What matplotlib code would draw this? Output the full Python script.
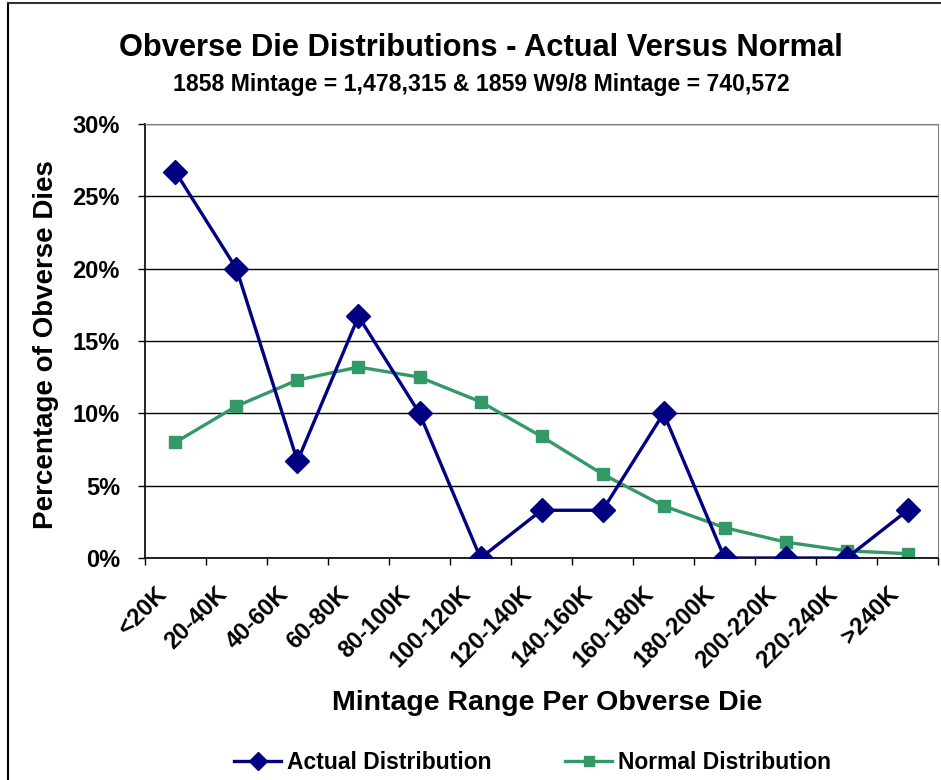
import matplotlib.pyplot as plt
from matplotlib.transforms import ScaledTranslation
import numpy as np

plt.rcParams['font.family'] = ['Liberation Sans', 'DejaVu Sans']
plt.rcParams['font.weight'] = 'bold'
plt.rcParams['axes.labelweight'] = 'bold'

categories = ['<20K', '20-40K', '40-60K', '60-80K', '80-100K', '100-120K', '120-140K',
              '140-160K', '160-180K', '180-200K', '200-220K', '220-240K', '>240K']
actual = [26.7, 20.0, 6.7, 16.7, 10.0, 0.0, 3.3, 3.3, 10.0, 0.0, 0.0, 0.0, 3.3]
normal = [8.0, 10.5, 12.3, 13.2, 12.5, 10.8, 8.4, 5.8, 3.6, 2.1, 1.1, 0.5, 0.3]

fig = plt.figure(figsize=(9.41, 7.8), dpi=100)
ax = fig.add_axes([0.154, 0.2846, 0.843, 0.5564])

x = np.arange(len(categories))
ax.plot(x, actual, color='#000080', lw=2.4, marker='D', ms=12, label='Actual Distribution',
        zorder=3)
ax.plot(x, normal, color='#339966', lw=2.4, marker='s', ms=9, label='Normal Distribution',
        zorder=2)

ax.set_xlim(-0.5, len(categories) - 0.5)
ax.set_ylim(0, 30)
ax.set_yticks(np.arange(0, 31, 5))
ax.set_yticklabels([f'{v}%' for v in range(0, 31, 5)], fontsize=17)
ax.yaxis.grid(True, color='black', lw=1)
ax.set_axisbelow(True)

ax.set_xticks(x)
ax.set_xticklabels(categories, rotation=45, ha='right', va='top', rotation_mode='anchor',
                   fontsize=17)
ax.tick_params(axis='x', length=0, pad=17.5)
shift = ScaledTranslation(-21 / 100, 0, fig.dpi_scale_trans)
for lbl in ax.get_xticklabels():
    lbl.set_transform(lbl.get_transform() + shift)
ax.set_xticks(np.arange(-0.5, len(categories), 1), minor=True)
ax.tick_params(axis='x', which='minor', length=5, width=1, direction='out')
ax.tick_params(axis='y', length=5, width=1, direction='out', pad=13)

for s in ['top', 'right']:
    ax.spines[s].set_color('#808080')
for s in ['left', 'bottom']:
    ax.spines[s].set_color('black')
    ax.spines[s].set_linewidth(1.2)

ax.set_ylabel('Percentage of Obverse Dies', fontsize=20, va='center')
ax.yaxis.set_label_coords(-0.125, 0.491)
ax.set_xlabel('Mintage Range Per Obverse Die', fontsize=20.5, va='center')
ax.xaxis.set_label_coords(0.507, -0.334)

fig.text(0.511, 0.938, 'Obverse Die Distributions - Actual Versus Normal', ha='center',
         va='center', fontsize=22.2)
fig.text(0.511, 0.892, '1858 Mintage = 1,478,315 & 1859 W9/8 Mintage = 740,572', ha='center',
         va='center', fontsize=16.6)

fig.legend(loc='center', bbox_to_anchor=(0.566, 0.023), ncol=2, frameon=False, fontsize=16.5,
           handlelength=2.05, columnspacing=3.2, handletextpad=0.27, markerscale=0.75)

# chart frame: left and top edges only (rest is cropped in the original)
fig.add_artist(plt.Line2D([0.0085, 0.0085], [0, 0.9965], transform=fig.transFigure,
                          color='black', lw=1.5))
fig.add_artist(plt.Line2D([0.0085, 1], [0.9965, 0.9965], transform=fig.transFigure,
                          color='#333333', lw=1.5))

fig.savefig('out.png', dpi=100)
